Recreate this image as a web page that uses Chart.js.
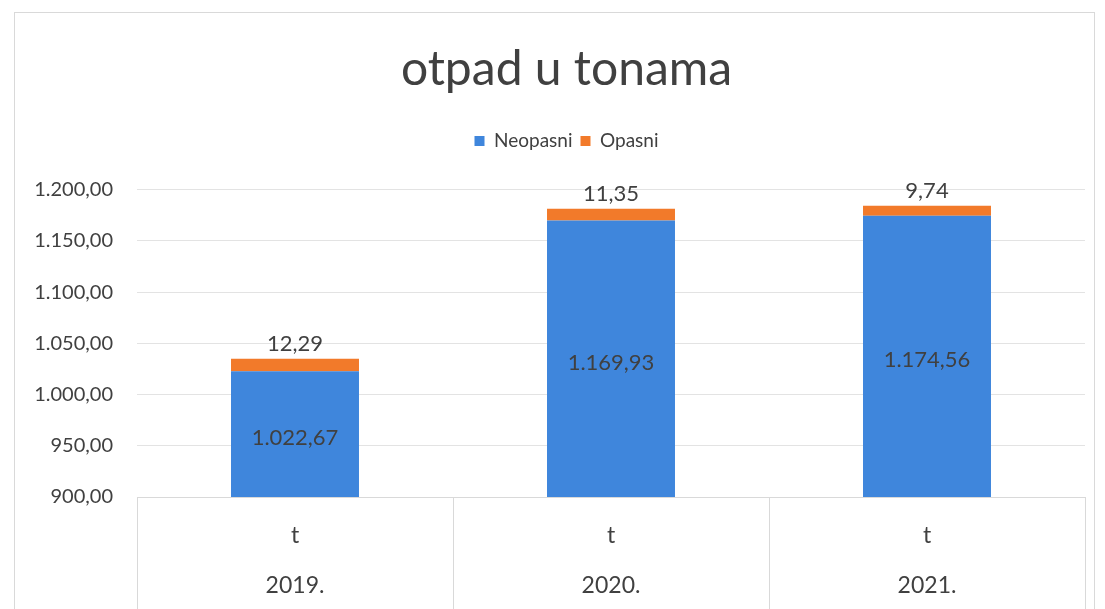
<html>
<head>
<script src="https://cdn.jsdelivr.net/npm/chart.js"></script>
<style>
  body { margin: 0; background: #fff; overflow: hidden; }
  #frame {
    position: absolute; left: 14px; top: 12px;
    width: 1081px; height: 597px;
    border: 1px solid #d9d9d9; border-bottom: none;
    box-sizing: border-box;
  }
  #wrap {
    position: absolute; left: 14px; top: 12px;
    width: 1104px; height: 597px;
  }
</style>
</head>
<body>
<div id="frame"></div>
<div id="wrap"><canvas id="otpad"></canvas></div>
<script>
const years = ['2019.', '2020.', '2021.'];
const unit = 't';
const neopasni = [1022.67, 1169.93, 1174.56];
const opasni = [12.29, 11.35, 9.74];
const yMin = 900, yMax = 1200, yStep = 50;

const FONT = 'Lato, "Open Sans", sans-serif';
const TEXT = '#404040';

// 1.022,67 style
function fmt(v) {
  const parts = v.toFixed(2).split('.');
  parts[0] = parts[0].replace(/\B(?=(\d{3})+(?!\d))/g, '.');
  return parts[0] + ',' + parts[1];
}

// data labels, drawn from the bar elements
const valueLabels = {
  id: 'valueLabels',
  afterDatasetsDraw(chart) {
    const ctx = chart.ctx;
    const bottom = chart.chartArea.bottom;
    ctx.save();
    ctx.font = '22px ' + FONT;
    ctx.fillStyle = TEXT;
    ctx.textAlign = 'center';
    ctx.textBaseline = 'middle';
    chart.getDatasetMeta(0).data.forEach((bar, i) => {
      ctx.fillText(fmt(neopasni[i]), bar.x, (bar.y + Math.min(bar.base, bottom)) / 2 + 4);
    });
    chart.getDatasetMeta(1).data.forEach((bar, i) => {
      ctx.fillText(fmt(opasni[i]), bar.x, bar.y - 15);
    });
    ctx.restore();
  }
};

// vertical separators under the plot between categories
const catSeparators = {
  id: 'catSeparators',
  afterDraw(chart) {
    const x = chart.scales.x, ctx = chart.ctx;
    const step = (x.right - x.left) / years.length;
    ctx.save();
    ctx.strokeStyle = '#d9d9d9';
    ctx.lineWidth = 1;
    for (let i = 0; i <= years.length; i++) {
      const px = Math.round(x.left + i * step) + 0.5;
      ctx.beginPath();
      ctx.moveTo(px, x.top);
      ctx.lineTo(px, chart.height);
      ctx.stroke();
    }
    ctx.restore();
  }
};

// extra room under the legend, and title/legend centred a bit further right
const headerLayout = {
  id: 'headerLayout',
  beforeInit(chart) {
    const fit = chart.legend.fit;
    chart.legend.fit = function () {
      fit.call(this);
      this.height += 29;
    };
  },
  afterLayout(chart) {
    [chart.titleBlock, chart.legend].forEach(b => {
      b.left += 17;
      b.right += 17;
    });
  }
};

new Chart(document.getElementById('otpad'), {
  type: 'bar',
  data: {
    labels: years.map(y => [unit, y]),
    datasets: [
      { label: 'Neopasni', data: neopasni, backgroundColor: '#3f86dc', barPercentage: 0.81, categoryPercentage: 0.5 },
      { label: 'Opasni', data: opasni, backgroundColor: '#f27a2a', barPercentage: 0.81, categoryPercentage: 0.5 }
    ]
  },
  options: {
    responsive: true,
    maintainAspectRatio: false,
    animation: false,
    layout: { padding: { left: 0, right: 33, top: 0, bottom: 0 } },
    plugins: {
      title: {
        display: true,
        text: 'otpad u tonama',
        color: TEXT,
        font: { family: FONT, size: 48, weight: 'normal' },
        padding: { top: 29, bottom: 25 }
      },
      legend: {
        position: 'top',
        labels: {
          color: TEXT,
          font: { family: FONT, size: 19 },
          boxWidth: 10, boxHeight: 10,
          padding: 8
        }
      },
      tooltip: { enabled: false }
    },
    scales: {
      x: {
        stacked: true,
        grid: { display: false },
        border: { color: '#d9d9d9' },
        ticks: {
          color: TEXT,
          font: { family: FONT, size: 23, lineHeight: 2.2 },
          padding: 5
        },
        afterFit(s) { s.height = 112; }
      },
      y: {
        stacked: true,
        min: yMin, max: yMax,
        grid: { color: '#e3e3e3', drawTicks: false },
        border: { display: false },
        ticks: {
          stepSize: yStep,
          color: TEXT,
          font: { family: FONT, size: 20 },
          padding: 24,
          callback: v => fmt(v)
        },
        afterFit(s) { s.width = 123; }
      }
    }
  },
  plugins: [headerLayout, valueLabels, catSeparators]
});
</script>
</body>
</html>
